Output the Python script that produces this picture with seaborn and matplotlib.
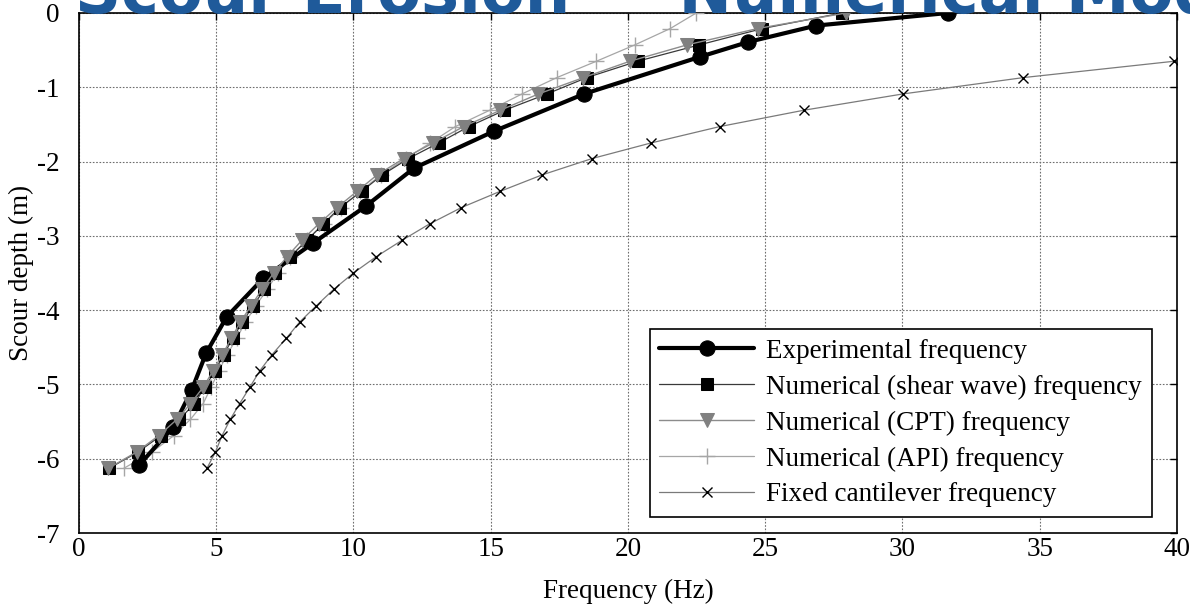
import matplotlib
matplotlib.use("Agg")
import matplotlib.pyplot as plt
import numpy as np
import pandas as pd
import seaborn as sns

# Experimental measurements
exp_depth = [0.0, -0.17, -0.39, -0.59, -1.09, -1.59, -2.09, -2.60, -3.10, -3.57,
             -4.09, -4.58, -5.08, -5.57, -6.09]
exp_freq = [31.67, 26.86, 24.39, 22.63, 18.40, 15.13, 12.20, 10.45, 8.52, 6.72,
            5.38, 4.63, 4.10, 3.44, 2.18]

# Depth stations shared by the numerical models
num_depth = [0.0, -0.21, -0.43, -0.65, -0.87, -1.09, -1.31, -1.53, -1.75, -1.96,
             -2.18, -2.40, -2.62, -2.84, -3.06, -3.28, -3.50, -3.72, -3.94, -4.16,
             -4.38, -4.60, -4.82, -5.04, -5.26, -5.47, -5.69, -5.91, -6.13]

shear_freq = [27.80, 24.90, 22.60, 20.35, 18.50, 17.05, 15.50, 14.20, 13.10, 12.00,
              11.05, 10.30, 9.50, 8.90, 8.30, 7.70, 7.15, 6.75, 6.35, 5.95,
              5.60, 5.27, 4.95, 4.58, 4.20, 3.66, 2.98, 2.15, 1.09]

cpt_freq = [27.95, 24.72, 22.15, 20.07, 18.38, 16.74, 15.35, 14.01, 12.90, 11.83,
            10.86, 10.13, 9.40, 8.73, 8.12, 7.58, 7.09, 6.67, 6.27, 5.88,
            5.55, 5.22, 4.88, 4.52, 4.06, 3.57, 2.90, 2.10, 1.06]

api_freq = [22.49, 21.54, 20.25, 18.85, 17.41, 16.14, 14.96, 13.71, 12.80, 11.90,
            11.00, 10.25, 9.55, 8.92, 8.30, 7.70, 7.25, 6.85, 6.45, 6.06,
            5.75, 5.39, 5.09, 4.81, 4.52, 4.06, 3.45, 2.66, 1.63]

# Fixed-base cantilever, from the -0.65 m station downwards
cant_depth = num_depth[3:]
cant_freq = [39.90, 34.41, 30.02, 26.40, 23.34, 20.84, 18.69, 16.87, 15.35, 13.93,
             12.77, 11.77, 10.83, 10.00, 9.28, 8.65, 8.04, 7.55, 7.03, 6.58,
             6.22, 5.85, 5.51, 5.21, 4.97, 4.66]

labels = ["Experimental frequency",
          "Numerical (shear wave) frequency",
          "Numerical (CPT) frequency",
          "Numerical (API) frequency",
          "Fixed cantilever frequency"]

x_ticks = [0, 5, 10, 15, 20, 25, 30, 35, 40]
y_ticks = [-7, -6, -5, -4, -3, -2, -1, 0]

sns.set_theme(style="white")
plt.rcParams["font.family"] = ["Liberation Serif", "DejaVu Serif"]
plt.rcParams["text.color"] = "black"
plt.rcParams["axes.labelcolor"] = "black"

FS = 19.5

fig = plt.figure(figsize=(11.9, 6.05), dpi=100)
ax = fig.add_axes([0.0664, 0.119, 0.9226, 0.8596])

styles = [
    dict(color="black", lw=3.0, marker="o", ms=11, mfc="black", mec="black", zorder=6),
    dict(color="#3a3a3a", lw=0.9, marker="s", ms=8.5, mfc="black", mec="black", zorder=5),
    dict(color="#8c8c8c", lw=1.0, marker="v", ms=9.5, mfc="#808080", mec="#808080", zorder=7),
    dict(color="#a6a6a6", lw=0.9, marker="+", ms=11, mew=1.0, mfc="#a6a6a6", mec="#a6a6a6", zorder=4),
    dict(color="#7a7a7a", lw=0.9, marker="x", ms=7, mew=1.0, mfc="black", mec="black", zorder=4),
]
series = [(exp_freq, exp_depth), (shear_freq, num_depth), (cpt_freq, num_depth),
          (api_freq, num_depth), (cant_freq, cant_depth)]

for (fx, dy), lab, st in zip(series, labels, styles):
    df = pd.DataFrame({"f": fx, "d": dy})
    st = dict(st)
    color = st.pop("color")
    lw = st.pop("lw")
    z = st.pop("zorder")
    sns.lineplot(data=df, x="f", y="d", sort=False, estimator=None, ax=ax,
                 color=color, linewidth=lw, label=lab, zorder=z, **st)

ax.set_xlim(0, 40)
ax.set_ylim(-7, 0)
ax.set_xticks(x_ticks)
ax.set_yticks(y_ticks)
ax.set_xticklabels([str(v) for v in x_ticks])
ax.set_yticklabels([str(v) for v in y_ticks])
ax.tick_params(axis="both", direction="in", length=5, width=1.0, labelsize=FS,
               top=True, right=True, colors="black", labelcolor="black")
ax.tick_params(axis="x", pad=3)
ax.tick_params(axis="y", pad=14)
ax.grid(True, color="#6e6e6e", linestyle=(0, (1.5, 1.5)), linewidth=0.8)
ax.set_axisbelow(True)
for sp in ax.spines.values():
    sp.set_color("black")
    sp.set_linewidth(1.2)

ax.set_xlabel("Frequency (Hz)", fontsize=FS, labelpad=12, color="black")
ax.set_ylabel("Scour depth (m)", fontsize=FS, labelpad=2, color="black")

leg = ax.legend(loc="lower right", bbox_to_anchor=(0.977, 0.031), fontsize=FS,
                frameon=True, fancybox=False, edgecolor="black", handlelength=3.5,
                borderpad=0.35, labelspacing=0.4, handletextpad=0.45, borderaxespad=0,
                labelcolor="black")
leg.get_frame().set_linewidth(1.2)
leg.get_frame().set_facecolor("white")
leg.get_frame().set_alpha(1.0)
leg.set_zorder(10)

# Banner heading running off the top edge
fig.text(0.063, 0.979, "Scour Erosion — Numerical Model", color="#1f5a9a",
         fontsize=46, fontweight="bold", family=["DejaVu Sans"], va="baseline",
         ha="left")

fig.savefig("out.png", dpi=100)
